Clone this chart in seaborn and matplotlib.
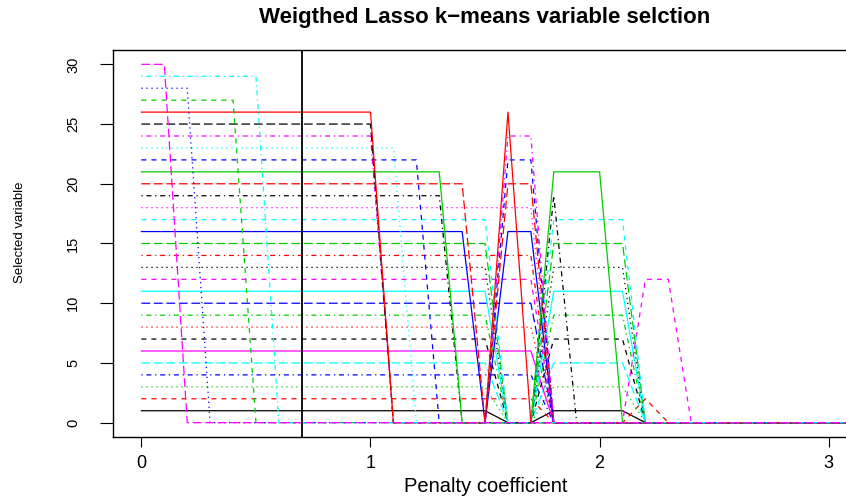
import numpy as np
import pandas as pd
import matplotlib
matplotlib.use("Agg")
import matplotlib.pyplot as plt
import seaborn as sns

# Penalty grid (x axis)
penalty = [0.0, 0.1, 0.2, 0.3, 0.4, 0.5, 0.6, 0.7, 0.8, 0.9,
           1.0, 1.1, 1.2, 1.3, 1.4, 1.5, 1.6, 1.7, 1.8, 1.9,
           2.0, 2.1, 2.2, 2.3, 2.4, 2.5, 2.6, 2.7, 2.8, 2.9,
           3.0, 3.1]

# selection pattern per variable (1 = selected at that penalty)
selected = {
    1:  "11111111111111110011110000000000",
    2:  "11111111111111111100001000000000",
    3:  "11111111111111110011110000000000",
    4:  "11111111111111111100000000000000",
    5:  "11111111111111110011110000000000",
    6:  "11111111111111111100000000000000",
    7:  "11111111111111110011110000000000",
    8:  "11111111111111111100000000000000",
    9:  "11111111111111110011110000000000",
    10: "11111111111111111100000000000000",
    11: "11111111111111110011110000000000",
    12: "11111111111111111100001100000000",
    13: "11111111111111110011110000000000",
    14: "11111111111111111100000000000000",
    15: "11111111111111110011110000000000",
    16: "11111111111111101100000000000000",
    17: "11111111111111110011110000000000",
    18: "11111111111111111100000000000000",
    19: "11111111111111000010000000000000",
    20: "11111111111111101100000000000000",
    21: "11111111111111000011100000000000",
    22: "11111111111110001100000000000000",
    23: "11111111111100000000000000000000",
    24: "11111111111000001100000000000000",
    25: "11111111111000000000000000000000",
    26: "11111111111000001000000000000000",
    27: "11111000000000000000000000000000",
    28: "11100000000000000000000000000000",
    29: "11111100000000000000000000000000",
    30: "11000000000000000000000000000000",
}

chosen_penalty = 0.7

# R matplot defaults: colours cycle 1:6, line types cycle 1:5
r_cols = ["black", "red", "#00CD00", "blue", "cyan", "magenta"]
r_ltys = ["", (4, 4), (1, 3), (1, 3, 4, 3), (7, 3)]

rows = []
for k, pattern in selected.items():
    assert len(pattern) == len(penalty)
    for x, flag in zip(penalty, pattern):
        rows.append({"penalty": x, "value": k * int(flag), "var": f"V{k}"})
df = pd.DataFrame(rows)

order = [f"V{k}" for k in selected]
palette = {f"V{k}": r_cols[(k - 1) % 6] for k in selected}
dashes = {f"V{k}": r_ltys[(k - 1) % 5] for k in selected}

plt.rcParams["font.family"] = ["Liberation Sans", "DejaVu Sans"]

fig = plt.figure(figsize=(8.46, 4.97), dpi=100)
ax = fig.add_axes([113 / 846, 1 - 437 / 497, (880 - 113) / 846, (437 - 50) / 497])

sns.lineplot(data=df, x="penalty", y="value", hue="var", style="var",
             hue_order=order, style_order=order, palette=palette, dashes=dashes,
             estimator=None, linewidth=0.9, legend=False, ax=ax)

ax.axvline(chosen_penalty, color="black", linewidth=1.3, zorder=10)

ax.set_xlim(-0.124, 3.224)
ax.set_ylim(-1.2, 31.2)
ax.set_xticks([0, 1, 2, 3])
ax.set_yticks([0, 5, 10, 15, 20, 25, 30])
ax.set_xlabel("")
ax.set_ylabel("")
ax.tick_params(axis="x", direction="out", length=7, width=0.8, pad=6, labelsize=13)
ax.tick_params(axis="y", direction="out", length=9.5, width=0.8, pad=14, labelsize=10.5)
for lab in ax.get_yticklabels():
    lab.set_rotation(90)
    lab.set_va("center")
for sp in ax.spines.values():
    sp.set_linewidth(1.0)
    sp.set_color("black")

fig.text(485 / 846, 1 - 18 / 497, "Weigthed Lasso k\u2212means variable selction",
         ha="center", va="center", fontsize=16, fontweight="bold")
fig.text(486 / 846, 1 - 486 / 497, "Penalty coefficient", ha="center", va="center",
         fontsize=14.5)
fig.text(20 / 846, 1 - 232 / 497, "Selected variable", ha="center", va="center",
         rotation=90, fontsize=9.5)

fig.savefig("out.png", dpi=100)
